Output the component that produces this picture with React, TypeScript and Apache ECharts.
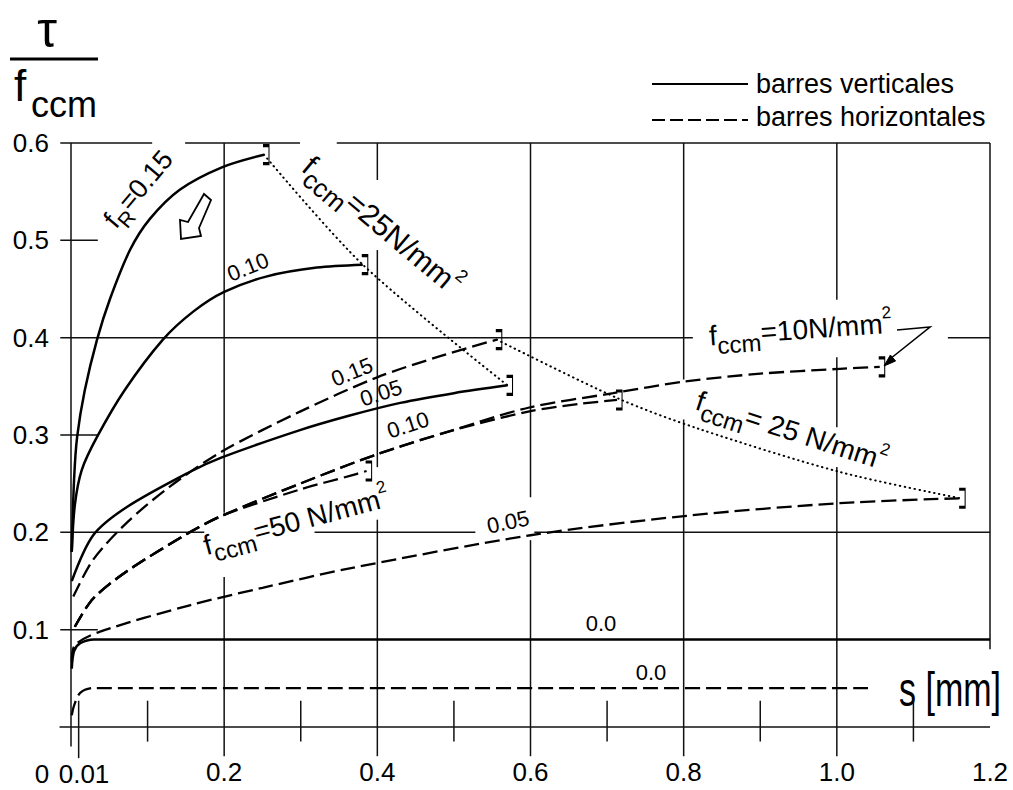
import React, { useEffect, useRef } from 'react';
import * as echarts from 'echarts';

// ---- data: [s (mm), tau / fccm] ----
// barres verticales (solid), fccm = 25 N/mm2
const vert015 = [[0.001, 0.18], [0.004, 0.254], [0.008, 0.298], [0.018, 0.346], [0.034, 0.398], [0.051, 0.440], [0.077, 0.490], [0.103, 0.522], [0.142, 0.552], [0.197, 0.575], [0.252, 0.588]];
const vert010 = [[0.001, 0.18], [0.005, 0.228], [0.014, 0.264], [0.034, 0.298], [0.070, 0.346], [0.120, 0.398], [0.160, 0.427], [0.200, 0.447], [0.256, 0.463], [0.321, 0.472], [0.381, 0.475]];
const vert005 = [[0.001, 0.15], [0.029, 0.197], [0.073, 0.226], [0.155, 0.262], [0.197, 0.277], [0.299, 0.305], [0.364, 0.320], [0.430, 0.333], [0.500, 0.343], [0.570, 0.351]];
const vert000 = [[0.001, 0.06], [0.004, 0.078], [0.012, 0.086], [0.03, 0.09], [1.2, 0.09]];
// barres horizontales (dashed)
const horiz015 = [[0.003, 0.134], [0.029, 0.172], [0.073, 0.210], [0.129, 0.247], [0.197, 0.283], [0.299, 0.324], [0.399, 0.359], [0.482, 0.381], [0.556, 0.398]];
const horiz010fc25 = [[0.005, 0.103], [0.029, 0.132], [0.073, 0.160], [0.155, 0.200], [0.197, 0.217], [0.299, 0.250], [0.399, 0.280], [0.495, 0.304], [0.597, 0.324], [0.664, 0.332], [0.713, 0.336]];
const horiz010fc50 = [[0.005, 0.103], [0.029, 0.132], [0.073, 0.160], [0.155, 0.200], [0.197, 0.217], [0.299, 0.244], [0.364, 0.258], [0.386, 0.263]];
const horiz010fc10 = [[0.005, 0.103], [0.029, 0.132], [0.073, 0.160], [0.155, 0.200], [0.197, 0.217], [0.299, 0.250], [0.399, 0.280], [0.495, 0.304], [0.597, 0.328], [0.708, 0.343], [0.802, 0.355], [0.90, 0.363], [1.004, 0.368], [1.056, 0.370]];
const horiz005 = [[0.001, 0.067], [0.005, 0.084], [0.038, 0.098], [0.155, 0.125], [0.25, 0.143], [0.364, 0.163], [0.6, 0.197], [0.804, 0.217], [1.004, 0.230], [1.161, 0.235]];
const horiz000 = [[0.001, 0.012], [0.004, 0.022], [0.012, 0.035], [0.029, 0.040], [1.043, 0.040]];
// fccm = 25 N/mm2 envelopes (dotted)
const envVert25 = [[0.252, 0.588], [0.381, 0.475], [0.570, 0.351]];
const envHoriz25 = [[0.556, 0.398], [0.713, 0.338], [0.821, 0.306], [1.004, 0.262], [1.161, 0.235]];

// extra x tick labels placed left of the axis origin
const xExtraLabels = ['0', '0.01'];

// grid / frame segments [x1, y1, x2, y2] in data units
const gridSegments = [
  [-0.014, 0.6, 0.106, 0.6], [0.149, 0.6, 0.299, 0.6], [0.347, 0.6, 1.2, 0.6],
  [-0.014, 0.5, 0.035, 0.5],
  [-0.014, 0.4, 0.812, 0.4], [1.145, 0.4, 1.2, 0.4],
  [-0.014, 0.3, 0.035, 0.3],
  [-0.014, 0.2, 0.174, 0.2], [0.318, 0.2, 0.528, 0.2], [0.605, 0.2, 1.2, 0.2],
  [-0.014, 0.1, 0.035, 0.1],
  [-0.015, 0, 1.2, 0],
  [0, 0.6, 0, -0.02],
  [0.2, 0.6, 0.2, 0.220], [0.2, 0.154, 0.2, -0.03],
  [0.4, 0.6, 0.4, 0.562], [0.4, 0.490, 0.4, 0.267], [0.4, 0.213, 0.4, -0.03],
  [0.6, 0.6, 0.6, 0.236], [0.6, 0.192, 0.6, -0.03],
  [0.8, 0.6, 0.8, 0.357], [0.8, 0.316, 0.8, -0.03],
  [1.0, 0.6, 1.0, 0.439], [1.0, 0.380, 1.0, 0.308], [1.0, 0.267, 1.0, -0.03],
  [1.2, 0.6, 1.2, 0.08],
  [0.01, 0.027, 0.01, -0.032],
  [0.1, 0.027, 0.1, -0.015], [0.3, 0.027, 0.3, -0.015], [0.5, 0.027, 0.5, -0.015],
  [0.7, 0.027, 0.7, -0.015], [0.9, 0.027, 0.9, -0.015], [1.1, 0.027, 1.1, -0.015],
];

const FONT = '"Liberation Sans", Arial, Helvetica, sans-serif';

let measureCtx: CanvasRenderingContext2D | null = null;
function tw(text: string, size: number) {
  if (!measureCtx) measureCtx = document.createElement('canvas').getContext('2d');
  measureCtx!.font = `${size}px ${FONT}`;
  return measureCtx!.measureText(text).width;
}

function txt(text: string, size: number, x: number, y: number, align = 'left', extra: any = {}) {
  return {
    type: 'text', x, y, silent: true, ...extra,
    style: {
      text, font: `${size}px ${FONT}`, fill: '#000',
      textAlign: align, textVerticalAlign: 'middle', align, verticalAlign: 'middle',
    },
  };
}

type Part = [string, number, number];
function richLabel(x: number, y: number, deg: number, parts: Part[]) {
  let cx = 0;
  const children = parts.map(([t, s, dy]) => {
    const el = txt(t, s, cx, dy);
    cx += tw(t, s);
    return el;
  });
  return { type: 'group', x, y, rotation: (deg * Math.PI) / 180, children };
}

function centerLabel(text: string, size: number, x: number, y: number, deg: number) {
  return txt(text, size, x, y, 'center', { rotation: (deg * Math.PI) / 180 });
}

const BRACKET = 'path://M0,0L6,0L6,18L0,18';

function curve(name: string, data: number[][], kind: 'solid' | 'dashed' | 'dotted', bracket: boolean) {
  const lineStyle: any = { color: '#000' };
  if (kind === 'solid') { lineStyle.width = 2.5; lineStyle.type = 'solid'; }
  if (kind === 'dashed') { lineStyle.width = 2.3; lineStyle.type = [15, 6]; }
  if (kind === 'dotted') { lineStyle.width = 2; lineStyle.type = [0.5, 4.5]; lineStyle.cap = 'round'; }
  const last = data[data.length - 1];
  return {
    name, type: 'line', data, symbol: 'none', showSymbol: false,
    smooth: 0.3,
    lineStyle, silent: true, z: 3, clip: false,
    markPoint: bracket ? {
      silent: true, animation: false,
      label: { show: false },
      data: [{
        coord: last, symbol: BRACKET, symbolSize: [6, 18], symbolOffset: [2, 0],
        itemStyle: { color: 'none', borderColor: '#000', borderWidth: 1.8 },
      }],
    } : undefined,
  };
}

export default function App() {
  const ref = useRef<HTMLDivElement>(null);
  useEffect(() => {
    if (!ref.current) return;
    const chart = echarts.init(ref.current, undefined, { renderer: 'svg' });

    const graphics: any[] = [
      // y-axis title tau / fccm
      txt('τ', 50, 47, 30, 'center'),
      { type: 'line', silent: true, shape: { x1: 10, y1: 59, x2: 98, y2: 59 }, style: { stroke: '#000', lineWidth: 3 } },
      txt('f', 44, 14, 85),
      txt('ccm', 36, 31, 104),
      // legend
      { type: 'line', silent: true, shape: { x1: 652, y1: 84, x2: 748, y2: 84 }, style: { stroke: '#000', lineWidth: 2.2 } },
      txt('barres verticales', 27, 756, 84),
      { type: 'line', silent: true, shape: { x1: 652, y1: 120, x2: 748, y2: 120 }, style: { stroke: '#000', lineWidth: 2.2, lineDash: [13, 5] } },
      txt('barres horizontales', 27, 756, 117),
      // extra x tick labels
      txt(xExtraLabels[0], 26, 42, 774, 'center'),
      txt(xExtraLabels[1], 26, 84, 774, 'center'),
      // axis unit
      txt('s [mm]', 34, 950, 690, 'center', { scaleY: 1.4 }),
      // curve labels
      richLabel(109, 224, 50, [['f', 27, 0], ['R', 21, 10], ['=0.15', 27, 0]]),
      centerLabel('0.10', 22, 248, 267, 22),
      richLabel(307, 162, -40, [['f', 30, 0], ['ccm', 26, 11], ['=25N/mm', 30, 0], ['2', 18, -12]]),
      centerLabel('0.15', 22, 352, 372, 22),
      centerLabel('0.05', 22, 381, 393, 18),
      centerLabel('0.10', 22, 408, 425, 18),
      richLabel(204, 546, 15, [['f', 28, 0], ['ccm', 24, 10], ['=50 N/mm', 28, 0], ['2', 17, -11]]),
      centerLabel('0.05', 22, 508, 522, 12),
      richLabel(709, 336, 4, [['f', 28, 0], ['ccm', 24, 10], ['=10N/mm', 28, 0], ['2', 17, -11]]),
      richLabel(697, 400, -18, [['f', 28, 0], ['ccm', 24, 10], ['= 25 N/mm', 28, 0], ['2', 17, -11]]),
      centerLabel('0.0', 22, 601, 623, 0),
      centerLabel('0.0', 22, 651, 672, 0),
      // pointer arrow for fccm = 10
      { type: 'polyline', silent: true, shape: { points: [[897, 330], [930, 327], [890, 359]] }, style: { stroke: '#000', lineWidth: 1.6, fill: 'none' } },
      { type: 'polygon', silent: true, shape: { points: [[884, 366], [895.6, 361], [890.4, 355]] }, style: { fill: '#000', stroke: '#000', lineWidth: 1 } },
      // hollow block arrow near fR = 0.15 (pointing down-left)
      { type: 'polygon', silent: true, shape: { points: [[181, 239], [180, 220], [188, 222], [204, 194], [211, 200], [199, 228], [201, 236]] }, style: { fill: '#fff', stroke: '#000', lineWidth: 1.8 } },
    ];

    chart.setOption({
      animation: false,
      grid: { left: 71, right: 23, top: 143, bottom: 63, containLabel: false },
      xAxis: {
        type: 'value', min: 0, max: 1.2, interval: 0.2,
        axisLine: { show: false }, axisTick: { show: false }, splitLine: { show: false },
        axisLabel: {
          margin: 32, fontSize: 26, color: '#000', fontFamily: FONT,
          formatter: (v: number) => (v === 0 ? '' : v.toFixed(1)),
        },
      },
      yAxis: {
        type: 'value', min: 0, max: 0.6, interval: 0.1,
        axisLine: { show: false }, axisTick: { show: false }, splitLine: { show: false },
        axisLabel: {
          margin: 22, fontSize: 26, color: '#000', fontFamily: FONT,
          formatter: (v: number) => (v === 0 ? '' : v.toFixed(1)),
        },
      },
      graphic: { elements: graphics },
      series: [
        {
          name: 'grid', type: 'custom', data: gridSegments, silent: true, z: 1, clip: false,
          encode: { x: [0, 2], y: [1, 3] },
          renderItem: (_p: any, api: any) => {
            const a = api.coord([api.value(0), api.value(1)]);
            const b = api.coord([api.value(2), api.value(3)]);
            return { type: 'line', shape: { x1: a[0], y1: a[1], x2: b[0], y2: b[1] }, style: { stroke: '#111', lineWidth: 1.5 } };
          },
        },
        curve('vert 0.15', vert015, 'solid', true),
        curve('vert 0.10', vert010, 'solid', true),
        curve('vert 0.05', vert005, 'solid', true),
        curve('vert 0.0', vert000, 'solid', false),
        curve('horiz 0.15', horiz015, 'dashed', true),
        curve('horiz 0.10 fc25', horiz010fc25, 'dashed', true),
        curve('horiz 0.10 fc50', horiz010fc50, 'dashed', true),
        curve('horiz 0.10 fc10', horiz010fc10, 'dashed', true),
        curve('horiz 0.05', horiz005, 'dashed', true),
        curve('horiz 0.0', horiz000, 'dashed', false),
        curve('env vert 25', envVert25, 'dotted', false),
        curve('env horiz 25', envHoriz25, 'dotted', false),
      ],
    });
    return () => chart.dispose();
  }, []);
  return <div ref={ref} style={{ position: 'fixed', left: 0, top: 0, width: 1013, height: 790, background: '#fff' }} />;
}
